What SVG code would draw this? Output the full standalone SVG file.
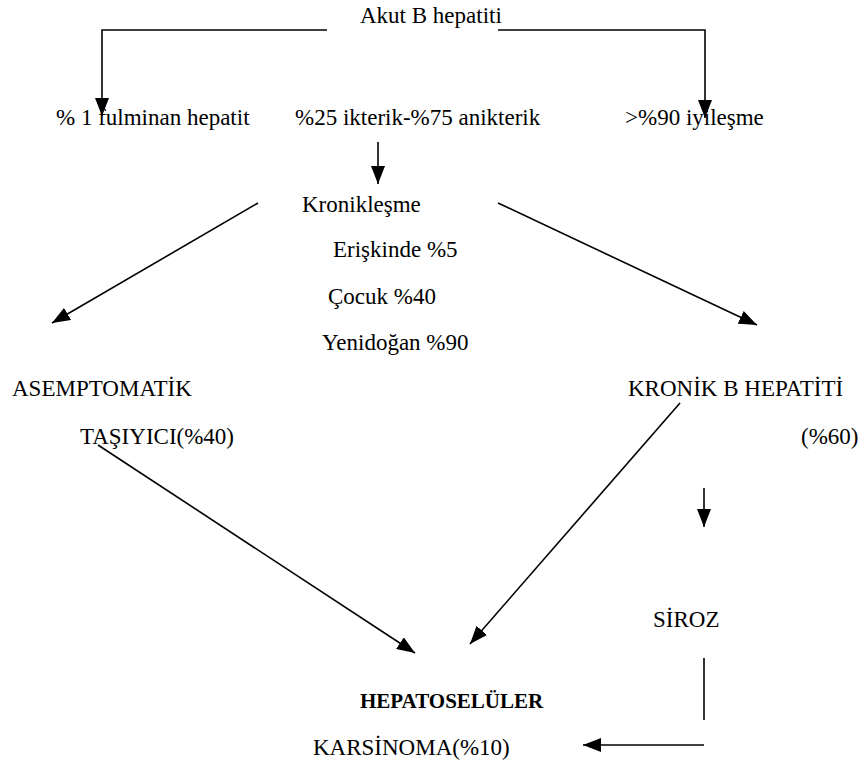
<svg xmlns="http://www.w3.org/2000/svg" width="858" height="776" viewBox="0 0 858 776">
<defs>
<style>
text{font-family:'Liberation Serif','Times New Roman',Times,serif;font-size:23px;fill:#000}
.b{font-weight:bold;font-size:21px}
.c line,.c polyline{stroke:#000;stroke-width:1.6;fill:none}
</style>
<marker id="ah" markerUnits="userSpaceOnUse" markerWidth="18" markerHeight="14" refX="18" refY="7" orient="auto" viewBox="0 0 18 14">
<path d="M0,0 L18,7 L0,14 z" fill="#000"/>
</marker>
</defs>
<rect width="858" height="776" fill="#fff"/>
<g font-family="Liberation Serif, Times New Roman, serif">
<g id="akut"><text x="360" y="23" font-size="22">Akut B hepatiti</text></g>
<g id="fulminan"><text x="56" y="125">% 1 fulminan hepatit</text></g>
<g id="ikterik"><text x="295" y="125">%25 ikterik-%75 anikterik</text></g>
<g id="iyilesme"><text x="625" y="125">&gt;%90 iyileşme</text></g>
<g id="kronik"><text x="302" y="212">Kronikleşme</text>
<text x="333" y="257">Erişkinde %5</text>
<text x="328" y="304">Çocuk %40</text>
<text x="322" y="350">Yenidoğan %90</text></g>
<g id="asemptomatik"><text x="12" y="396">ASEMPTOMATİK</text>
<text x="80" y="444">TAŞIYICI(%40)</text></g>
<g id="kronikb"><text x="628" y="396">KRONİK B HEPATİTİ</text>
<text x="801" y="444">(%60)</text></g>
<g id="siroz"><text x="653" y="627">SİROZ</text></g>
<g id="hcc"><text class="b" x="360" y="708">HEPATOSELÜLER</text>
<text x="313" y="755" font-size="22">KARSİNOMA(%10)</text></g>
</g>
<g class="c" id="connectors">
<polyline points="327,30 102,30 102,116" marker-end="url(#ah)"/>
<polyline points="498,30 705,30 705,118" marker-end="url(#ah)"/>
<line x1="378" y1="142" x2="378" y2="184" marker-end="url(#ah)"/>
<line x1="258" y1="203" x2="52" y2="323" marker-end="url(#ah)"/>
<line x1="498" y1="203" x2="757" y2="325" marker-end="url(#ah)"/>
<line x1="98" y1="445" x2="415" y2="653" marker-end="url(#ah)"/>
<line x1="680" y1="403" x2="470" y2="644" marker-end="url(#ah)"/>
<line x1="704" y1="488" x2="704" y2="527" marker-end="url(#ah)"/>
<line x1="704" y1="658" x2="704" y2="720" stroke-width="1.2"/>
<line x1="704" y1="745" x2="583" y2="745" marker-end="url(#ah)"/>
</g>
</svg>
